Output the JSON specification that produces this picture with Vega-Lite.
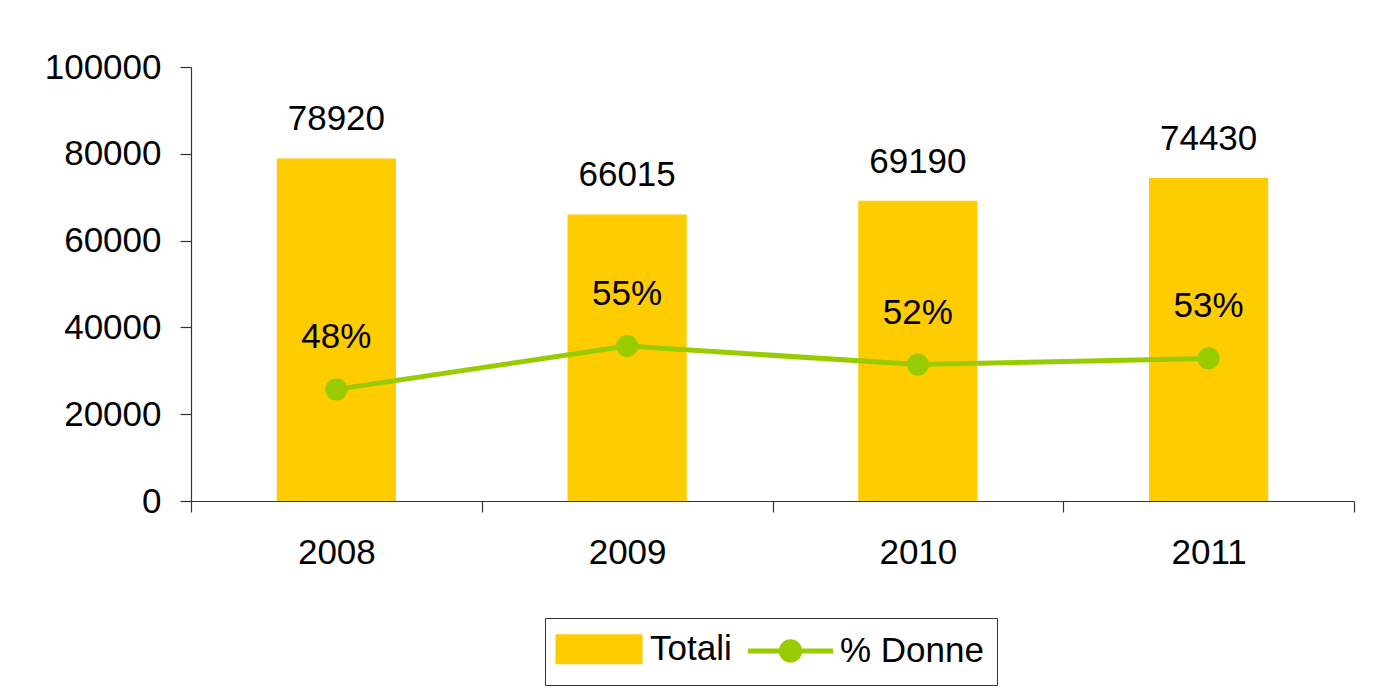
{
  "$schema": "https://vega.github.io/schema/vega-lite/v6.json",
  "width": 1163,
  "height": 434,
  "autosize": {"type": "none"},
  "padding": {"left": 191, "top": 67, "right": 20, "bottom": 189},
  "background": "white",
  "data": {
    "values": [
      {"anno": "2008", "totali": 78920, "donne": 0.48},
      {"anno": "2009", "totali": 66015, "donne": 0.55},
      {"anno": "2010", "totali": 69190, "donne": 0.52},
      {"anno": "2011", "totali": 74430, "donne": 0.53}
    ]
  },
  "encoding": {
    "x": {
      "field": "anno",
      "type": "ordinal",
      "scale": {"paddingInner": 0, "paddingOuter": 0},
      "axis": {"title": null, "labelAngle": 0, "tickBand": "extent", "tickSize": 11, "labelPadding": 51, "labelBaseline": "alphabetic", "labelFontSize": 35}
    }
  },
  "layer": [
    {
      "encoding": {
        "y": {
          "field": "totali",
          "type": "quantitative",
          "scale": {"domain": [0, 100000], "nice": false},
          "axis": {"title": null, "grid": false, "values": [0, 20000, 40000, 60000, 80000, 100000], "format": "d", "tickSize": 11, "labelPadding": 19, "labelFontSize": 35}
        }
      },
      "layer": [
        {
          "mark": {"type": "bar", "width": {"band": 0.41}},
          "encoding": {
            "color": {
              "datum": "Totali",
              "scale": {"domain": ["Totali", "% Donne"], "range": ["#FFCC00", "#99CC00"]},
              "legend": {
                "title": null,
                "orient": "none",
                "legendX": 354,
                "legendY": 551,
                "direction": "horizontal",
                "strokeColor": "#333333",
                "padding": 13,
                "labelFontSize": 35,
                "labelFont": "Liberation Sans",
                "labelColor": "black",
                "labelOffset": 7,
                "columnPadding": 6,
                "symbolSize": 6400,
                "symbolStrokeWidth": 5,
                "encode": {
                  "symbols": {
                    "update": {
                      "y": {"value": 18},
                      "shape": {"signal": "datum.value === 'Totali' ? 'M-1.0625,-0.3125H0.9875V0.3125H-1.0625Z' : 'M-1.0625,0H1.0625M-0.23,0A0.23,0.23,0,1,1,0.23,0A0.23,0.23,0,1,1,-0.23,0Z'"},
                      "fill": {"signal": "datum.value === 'Totali' ? '#FFCC00' : '#99CC00'"},
                      "stroke": {"signal": "datum.value === 'Totali' ? 'transparent' : '#99CC00'"},
                      "strokeWidth": {"value": 5},
                      "opacity": {"value": 1},
                      "fillOpacity": {"value": 1},
                      "strokeOpacity": {"value": 1}
                    }
                  },
                  "labels": {
                    "update": {
                      "y": {"value": 18}
                    }
                  }
                }
              }
            }
          }
        },
        {
          "mark": {"type": "text", "baseline": "alphabetic", "dy": -28, "fontSize": 35, "color": "black"},
          "encoding": {"text": {"field": "totali", "type": "quantitative", "format": "d"}}
        }
      ]
    },
    {
      "encoding": {
        "y": {
          "field": "donne",
          "type": "quantitative",
          "scale": {"domain": [0.3, 1.0], "nice": false, "zero": false},
          "axis": null
        }
      },
      "layer": [
        {
          "mark": {"type": "line", "strokeWidth": 5, "point": {"filled": true, "size": 490, "opacity": 1}},
          "encoding": {"color": {"datum": "% Donne"}}
        },
        {
          "mark": {"type": "text", "baseline": "alphabetic", "dy": -41, "fontSize": 35, "color": "black"},
          "encoding": {"text": {"field": "donne", "type": "quantitative", "format": ".0%"}}
        }
      ]
    }
  ],
  "resolve": {"scale": {"y": "independent"}},
  "config": {
    "view": {"stroke": null},
    "font": "Liberation Sans",
    "axis": {"labelFont": "Liberation Sans", "labelColor": "black", "domainColor": "#333333", "tickColor": "#333333", "domainWidth": 1.2, "tickWidth": 1.2}
  }
}
